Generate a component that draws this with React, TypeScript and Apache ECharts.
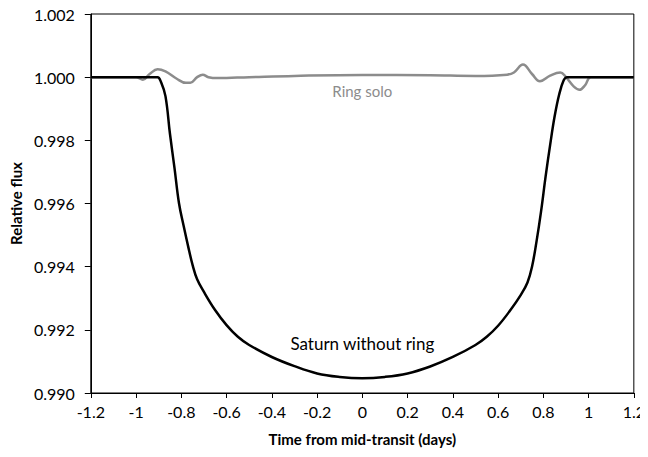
import React, { useEffect, useRef } from "react";
import * as echarts from "echarts";

const saturnTime = [
  -1.2, -1.0, -0.905, -0.89, -0.87, -0.85, -0.83, -0.81, -0.79, -0.77, -0.75, -0.73, -0.7, -0.65,
  -0.6, -0.55, -0.5, -0.4, -0.3, -0.2, -0.1, 0, 0.1, 0.2, 0.3, 0.4, 0.5, 0.55, 0.6, 0.65, 0.7,
  0.73, 0.75, 0.77, 0.79, 0.81, 0.83, 0.85, 0.87, 0.89, 0.905, 1.0, 1.2,
];
const saturnFlux = [
  1.0, 1.0, 1.0, 0.99985, 0.9994, 0.9982, 0.99712, 0.996, 0.9953, 0.99465, 0.99405, 0.9936,
  0.9932, 0.99262, 0.99215, 0.99178, 0.99152, 0.99114, 0.99085, 0.99062, 0.99051, 0.99047,
  0.99051, 0.99062, 0.99084, 0.99114, 0.99152, 0.99178, 0.99213, 0.99258, 0.9931, 0.9935, 0.994,
  0.9948, 0.99575, 0.99685, 0.99785, 0.99876, 0.99945, 0.9999, 1.0, 1.0, 1.0,
];

const ringTime = [
  -1.2, -1.0, -0.97, -0.94, -0.905, -0.87, -0.82, -0.78, -0.76, -0.73, -0.705, -0.68, -0.64,
  -0.5, -0.3, 0, 0.3, 0.5, 0.64, 0.67, 0.71, 0.75, 0.785, 0.83, 0.875, 0.9, 0.935, 0.96, 0.985,
  1.01, 1.2,
];
const ringFlux = [
  1.0, 1.0, 0.99992, 1.0001, 1.00025, 1.00018, 0.99995, 0.99982, 0.99982, 1.0, 1.00008, 1.0,
  0.99997, 1.0, 1.00004, 1.00007, 1.00006, 1.00004, 1.00008, 1.00015, 1.0004, 1.0001, 0.99987,
  1.00005, 1.00015, 1.0, 0.9997, 0.9996, 0.99975, 1.0, 1.0,
];

const xTitle = "Time from mid-transit (days)";
const yTitle = "Relative flux";
const saturnLabel = "Saturn without ring";
const ringLabel = "Ring solo";

const FONT = "Lato, 'Open Sans', sans-serif";

export default function App() {
  const ref = useRef<HTMLDivElement>(null);
  useEffect(() => {
    if (!ref.current) return;
    const chart = echarts.init(ref.current, undefined, { renderer: "svg" });
    chart.setOption({
      animation: false,
      textStyle: { fontFamily: FONT },
      grid: {
        left: 89,
        top: 14,
        right: 11,
        bottom: 64,
        show: true,
        borderColor: "#000",
        borderWidth: 1,
        backgroundColor: "transparent",
      },
      xAxis: {
        type: "value",
        min: -1.2,
        max: 1.2,
        interval: 0.2,
        name: xTitle,
        nameLocation: "middle",
        nameGap: 38,
        nameTextStyle: { fontFamily: FONT, fontSize: 15, fontWeight: "bold", color: "#000" },
        axisLine: { show: true, onZero: false, lineStyle: { color: "#000", width: 1 } },
        axisTick: { show: true, inside: false, length: 5, lineStyle: { color: "#000" } },
        splitLine: { show: false },
        axisLabel: {
          fontFamily: FONT,
          fontSize: 16,
          color: "#000",
          margin: 10,
          formatter: (v: number) => String(parseFloat(v.toFixed(1))),
        },
      },
      yAxis: {
        type: "value",
        min: 0.99,
        max: 1.002,
        interval: 0.002,
        name: yTitle,
        nameLocation: "middle",
        nameGap: 66,
        nameTextStyle: { fontFamily: FONT, fontSize: 15, fontWeight: "bold", color: "#000" },
        axisLine: { show: true, onZero: false, lineStyle: { color: "#000", width: 1 } },
        axisTick: { show: true, inside: false, length: 6, lineStyle: { color: "#000" } },
        splitLine: { show: false },
        axisLabel: {
          fontFamily: FONT,
          fontSize: 16,
          color: "#000",
          margin: 16,
          formatter: (v: number) => v.toFixed(3),
        },
      },
      series: [
        {
          type: "line",
          name: ringLabel,
          data: ringTime.map((t, i) => [t, ringFlux[i]]),
          showSymbol: false,
          smooth: 0.4,
          lineStyle: { color: "#8c8c8c", width: 2.5 },
          z: 2,
          markPoint: {
            symbol: "circle",
            symbolSize: 0,
            data: [
              {
                coord: [0, 0.99955],
                label: {
                  show: true,
                  formatter: ringLabel,
                  fontFamily: FONT,
                  fontSize: 15,
                  color: "#8c8c8c",
                  position: "inside",
                },
              },
            ],
          },
        },
        {
          type: "line",
          name: saturnLabel,
          data: saturnTime.map((t, i) => [t, saturnFlux[i]]),
          showSymbol: false,
          smooth: 0.4,
          lineStyle: { color: "#000", width: 2.5 },
          z: 3,
          markPoint: {
            symbol: "circle",
            symbolSize: 0,
            data: [
              {
                coord: [0, 0.99158],
                label: {
                  show: true,
                  formatter: saturnLabel,
                  fontFamily: FONT,
                  fontSize: 17,
                  color: "#000",
                  position: "inside",
                },
              },
            ],
          },
        },
      ],
    });
    return () => chart.dispose();
  }, []);
  return <div ref={ref} style={{ width: 648, height: 457, margin: -8 }} />;
}
